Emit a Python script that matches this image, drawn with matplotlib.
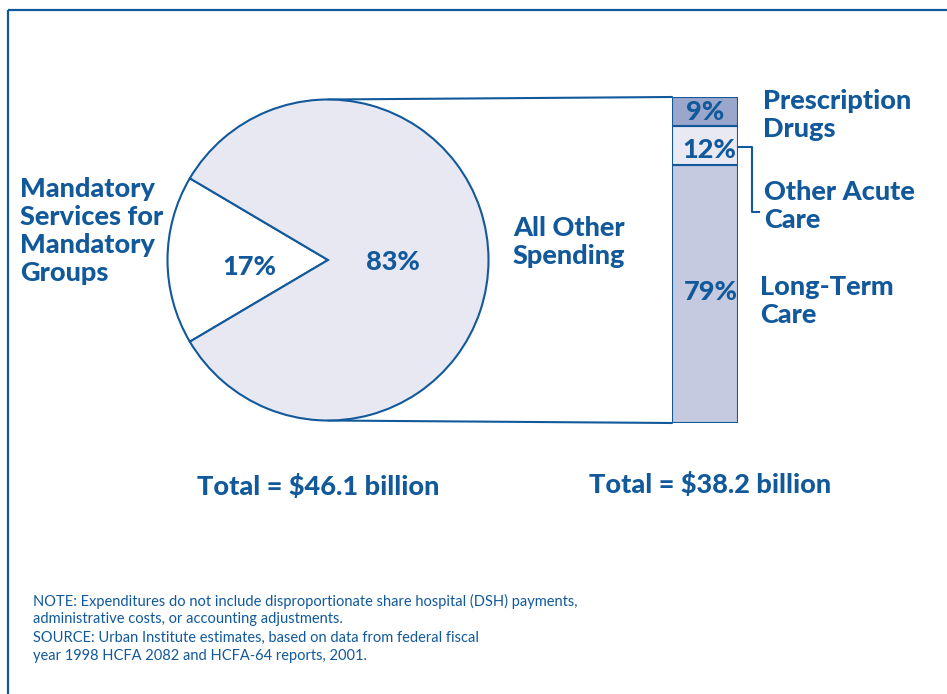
import matplotlib.pyplot as plt
from matplotlib.patches import Rectangle, ConnectionPatch

# shares of total spending
pie_labels = ["Mandatory\nServices for\nMandatory\nGroups", "All Other\nSpending"]
pie_shares = [17, 83]
pie_totals = "Total = $46.1 billion"

# breakdown of "all other spending", bottom to top of the bar
bar_labels = ["Long-Term\nCare", "Other Acute\nCare", "Prescription\nDrugs"]
bar_shares = [79, 12, 9]
bar_totals = "Total = $38.2 billion"

blue = '#12599c'
FONT = 'Lato'
W, H = 947, 694

fig = plt.figure(figsize=(W / 100, H / 100), dpi=100)

# stacked bar in its own axes (kept underneath the text layer)
bx0, bx1, by0, by1 = 672, 738, 97, 423
bax = fig.add_axes([bx0 / W, 1 - by1 / H, (bx1 - bx0) / W, (by1 - by0) / H])
bar_colors = ['#c5cae0', '#e8e9f3', '#9aa6cb']
bottom = 0
for share, col in zip(bar_shares, bar_colors):
    bax.bar(0, share, bottom=bottom, width=1, color=col, edgecolor=blue,
            linewidth=1.5)
    bottom += share
bax.set_xlim(-0.5, 0.5)
bax.set_ylim(0, sum(bar_shares))
bax.axis('off')

ax = fig.add_axes([0, 0, 1, 1])
ax.set_zorder(2)

# pie, centered on the white slice pointing left
cx, cy, r = 328, 260, 160.5
half = pie_shares[0] / 100 * 360 / 2
ax.pie(pie_shares, colors=['white', '#e8e8f3'], startangle=180 - half,
       center=(cx, cy), radius=r,
       wedgeprops=dict(edgecolor=blue, linewidth=1.5))
ax.set_xlim(0, W)
ax.set_ylim(H, 0)
ax.axis('off')

# connector lines from pie to bar
for (px, py), yb in [((cx, cy - r), sum(bar_shares)), ((cx, cy + r), 0)]:
    con = ConnectionPatch(xyA=(px, py), coordsA=ax.transData,
                          xyB=(-0.5, yb), coordsB=bax.transData,
                          color=blue, linewidth=1.5)
    fig.add_artist(con)

# outer frame
ax.add_patch(Rectangle((8, 9.5), 1200, 1200, fill=False, edgecolor=blue,
                       linewidth=1.6, clip_on=False))

big = dict(color=blue, fontsize=19.5, fontweight='black', family=FONT)
ls = 1.2

# pie labels
ax.text(249, 267, f"{pie_shares[0]}%", ha='center', va='center', **big)
ax.text(393, 262, f"{pie_shares[1]}%", ha='center', va='center', **big)
ax.text(20, 231, pie_labels[0], ha='left', va='center', linespacing=ls, **big)
ax.text(513, 242, pie_labels[1], ha='left', va='center', linespacing=ls, **big)

# bar segment labels
seg_y = [292, 150, 112]
seg_x = [711, 709, 705]
for share, x, y in zip(bar_shares, seg_x, seg_y):
    ax.text(x, y, f"{share}%", ha='center', va='center', **big)

ax.text(760, 301, bar_labels[0], ha='left', va='center', linespacing=ls, **big)
ax.text(764, 206, bar_labels[1], ha='left', va='center', linespacing=ls, **big)
ax.text(763, 115, bar_labels[2], ha='left', va='center', linespacing=ls, **big)

# bracket tying the 12% slice to its label
ax.plot([738, 752, 752, 759], [147, 147, 212, 212], color=blue, linewidth=1.5)

# totals
ax.text(318, 486, pie_totals, ha='center', va='center', **big)
ax.text(710, 484, bar_totals, ha='center', va='center', **big)

notes = [
    "NOTE: Expenditures do not include disproportionate share hospital (DSH) payments,",
    "administrative costs, or accounting adjustments.",
    "SOURCE: Urban Institute estimates, based on data from federal fiscal",
    "year 1998 HCFA 2082 and HCFA-64 reports, 2001.",
]
for i, line in enumerate(notes):
    ax.text(33, 601 + i * 18.4, line, ha='left', va='center', color=blue,
            fontsize=10.5, family=FONT)

fig.savefig('out.png', dpi=100)
